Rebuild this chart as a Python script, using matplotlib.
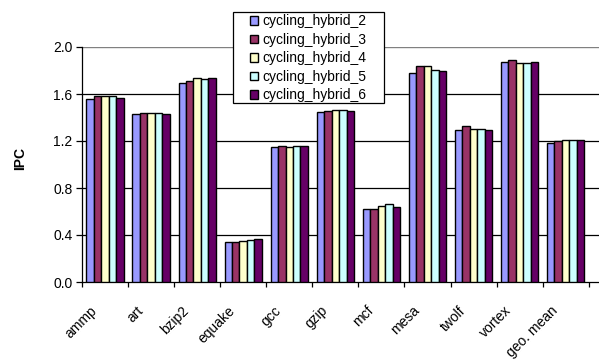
import matplotlib
matplotlib.use("Agg")
import matplotlib.pyplot as plt
from matplotlib.patches import Rectangle
import numpy as np

plt.rcParams['font.family'] = ['Liberation Sans', 'DejaVu Sans']

categories = ["ammp", "art", "bzip2", "equake", "gcc", "gzip", "mcf",
              "mesa", "twolf", "vortex", "geo. mean"]
series_names = ["cycling_hybrid_2", "cycling_hybrid_3", "cycling_hybrid_4",
                "cycling_hybrid_5", "cycling_hybrid_6"]
hybrid_2 = [1.561, 1.429, 1.694, 0.342, 1.146, 1.443, 0.620, 1.782, 1.293, 1.876, 1.185]
hybrid_3 = [1.587, 1.437, 1.714, 0.337, 1.157, 1.454, 0.625, 1.836, 1.324, 1.887, 1.199]
hybrid_4 = [1.581, 1.437, 1.737, 0.345, 1.151, 1.462, 0.648, 1.836, 1.304, 1.867, 1.208]
hybrid_5 = [1.581, 1.437, 1.728, 0.354, 1.157, 1.468, 0.662, 1.808, 1.298, 1.861, 1.211]
hybrid_6 = [1.570, 1.434, 1.737, 0.365, 1.157, 1.457, 0.642, 1.799, 1.293, 1.870, 1.211]
y_ticks = [0.0, 0.4, 0.8, 1.2, 1.6, 2.0]

series = [hybrid_2, hybrid_3, hybrid_4, hybrid_5, hybrid_6]
colors = ["#9999FF", "#993366", "#FFFFCC", "#CCFFFF", "#660066"]

FS = 10
W, H = 599, 360
fig = plt.figure(figsize=(W / 100, H / 100), dpi=100)
ax = fig.add_axes([82 / W, 1 - 282 / H, 1 - 82 / W, (282 - 47) / H])

x = np.arange(len(categories))
bar_w = 0.162
for i, (vals, col, name) in enumerate(zip(series, colors, series_names)):
    ax.bar(x + (i - 2) * bar_w, vals, width=bar_w, color=col,
           edgecolor="black", linewidth=1.0, label=name, zorder=3)

ax.set_ylim(0, 2.0)
ax.set_xlim(-0.5, 10.5 + (599 - 588.7) / 46.04)
ax.set_yticks(y_ticks)
ax.set_yticklabels([f"{v:.1f}" for v in y_ticks], fontsize=FS)

for v in y_ticks[1:-1]:
    ax.axhline(v, color="black", linewidth=0.9, zorder=1)
ax.axhline(2.0, color="#808080", linewidth=1.0, zorder=1)

# category boundaries carry the tick marks; labels sit slightly left of centre
ax.set_xticks(np.arange(len(categories) + 1) - 0.5)
ax.set_xticklabels([])
ax.set_xticks(x - 0.22, minor=True)
ax.set_xticklabels(categories, minor=True, rotation=45, ha="right",
                   va="center", rotation_mode="anchor", fontsize=FS)
ax.tick_params(axis="x", which="minor", length=0, pad=19)
ax.tick_params(axis="x", which="major", length=3.8, width=0.9, direction="out")
ax.tick_params(axis="y", length=4.5, width=0.9, direction="out", pad=2.5)

for s in ["top", "right"]:
    ax.spines[s].set_visible(False)
ax.spines["left"].set_linewidth(0.9)
ax.spines["bottom"].set_linewidth(0.9)

fig.text(20 / W, 1 - 158 / H, "IPC", rotation=90, fontsize=FS,
         fontweight="bold", ha="center", va="center")

# legend box
box = Rectangle((233 / W, 1 - 103 / H), (384 - 233) / W, (103 - 11.7) / H,
                transform=fig.transFigure, facecolor="white", edgecolor="black",
                linewidth=0.9, zorder=4, clip_on=False)
ax.add_artist(box)
leg = ax.legend(loc="upper left",
                bbox_to_anchor=(249.5 / W, 1 - 14.5 / H),
                bbox_transform=fig.transFigure,
                fontsize=FS, frameon=False, handlelength=0.6, handleheight=0.6,
                handletextpad=0.36, labelspacing=0.32, borderpad=0,
                borderaxespad=0)
leg.set_zorder(5)

fig.savefig("out.png", dpi=100)
